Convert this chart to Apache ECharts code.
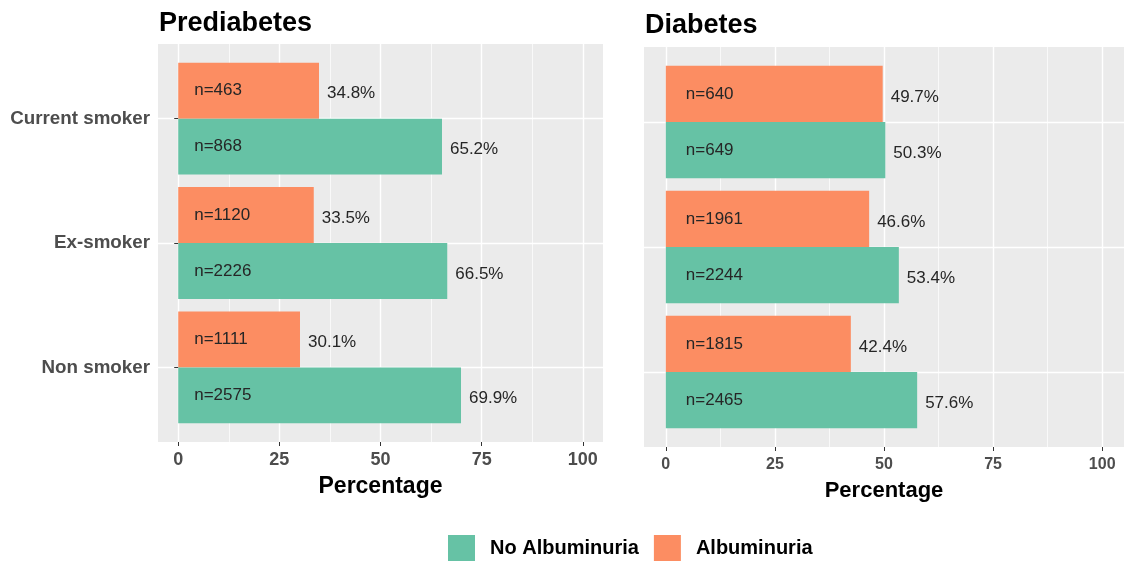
<!DOCTYPE html>
<html><head><meta charset="utf-8">
<script src="https://cdn.jsdelivr.net/npm/echarts@6/dist/echarts.min.js"></script>
<style>html,body{margin:0;padding:0;background:#fff}#c{width:1126px;height:562px}</style>
</head><body><div id="c"></div>
<script>
// ---- data ----
const categories = ['Current smoker', 'Ex-smoker', 'Non smoker'];
const seriesNames = ['No Albuminuria', 'Albuminuria'];
const panelTitles = ['Prediabetes', 'Diabetes'];
const xTicks = [0, 25, 50, 75, 100];
const xMinorTicks = [12.5, 37.5, 62.5, 87.5];
const axisTitle = 'Percentage';

const preAlbPct = [34.8, 33.5, 30.1];
const preAlbN = [463, 1120, 1111];
const preNoPct = [65.2, 66.5, 69.9];
const preNoN = [868, 2226, 2575];

const diaAlbPct = [49.7, 46.6, 42.4];
const diaAlbN = [640, 1961, 1815];
const diaNoPct = [50.3, 53.4, 57.6];
const diaNoN = [649, 2244, 2465];

// ---- style / layout ----
const TEAL = '#66C2A5', ORANGE = '#FC8D62';
const FONT = '"Liberation Sans", Arial, sans-serif';
const panels = [
  { title: panelTitles[0], bg: {left: 158, top: 44, width: 445, height: 398}, showY: true,
    tickFont: 18, nameFont: 23, nameGap: 33, labelMargin: 9, titleTop: 10, nDist: 16,
    alb: {pct: preAlbPct, n: preAlbN}, no: {pct: preNoPct, n: preNoN} },
  { title: panelTitles[1], bg: {left: 644, top: 47, width: 480, height: 400}, showY: false,
    tickFont: 16, nameFont: 22, nameGap: 33, labelMargin: 10, titleTop: 12, nDist: 20,
    alb: {pct: diaAlbPct, n: diaAlbN}, no: {pct: diaNoPct, n: diaNoN} }
];

const grid = [], xAxis = [], yAxis = [], series = [], title = [];
panels.forEach((p, i) => {
  const b = p.bg;
  const g0 = grid.length;
  grid.push({ left: b.left, top: b.top, width: b.width, height: b.height, show: true,
              backgroundColor: '#EBEBEB', borderWidth: 0, outerBoundsMode: 'none' });
  grid.push({ left: b.left, top: b.top + b.height / 32, width: b.width, height: b.height * 3 / 3.2,
              show: false, outerBoundsMode: 'none' });
  title.push({ text: p.title, left: b.left + 1, top: p.titleTop, padding: 0,
               textStyle: { fontFamily: FONT, fontWeight: 'bold', fontSize: 27, color: '#000' } });
  // background grid: major x
  xAxis.push({ type: 'value', gridIndex: g0, min: -5, max: 105, position: 'bottom',
    name: axisTitle, nameLocation: 'middle', nameGap: p.nameGap,
    nameTextStyle: { fontFamily: FONT, fontWeight: 'bold', fontSize: p.nameFont, color: '#000' },
    axisLine: { show: false },
    axisTick: { show: true, customValues: xTicks, length: 4, lineStyle: { color: '#333', width: 1 } },
    axisLabel: { customValues: xTicks, margin: p.labelMargin, fontFamily: FONT, fontWeight: 'bold',
                 fontSize: p.tickFont, color: '#4D4D4D' },
    splitLine: { show: true, lineStyle: { color: '#FFFFFF', width: 1.4 } } });
  // background grid: minor x
  xAxis.push({ type: 'value', gridIndex: g0, min: -5, max: 105, position: 'top',
    axisLine: { show: false }, axisLabel: { show: false },
    axisTick: { show: false, customValues: xMinorTicks },
    splitLine: { show: true, lineStyle: { color: '#FFFFFF', width: 0.7 } } });
  // data grid x
  const xData = xAxis.length;
  xAxis.push({ type: 'value', gridIndex: g0 + 1, min: -5, max: 105, show: false,
    axisLine: { show: false }, axisLabel: { show: false }, axisTick: { show: false }, splitLine: { show: false } });
  // background grid y (value, category centres 1..3)
  yAxis.push({ type: 'value', gridIndex: g0, min: 0.4, max: 3.6, inverse: true,
    axisLine: { show: false },
    axisTick: { show: p.showY, customValues: [1, 2, 3], length: 4, lineStyle: { color: '#333', width: 1 } },
    axisLabel: { show: p.showY, customValues: [1, 2, 3], margin: 8, fontFamily: FONT, fontWeight: 'bold',
                 fontSize: 18.8, color: '#4D4D4D', formatter: v => categories[Math.round(v) - 1] },
    splitLine: { show: true, lineStyle: { color: '#FFFFFF', width: 1.4 } } });
  const yA = yAxis.length;
  yAxis.push({ type: 'category', gridIndex: g0 + 1, data: categories, inverse: true, show: false,
    axisLine: { show: false }, axisTick: { show: false }, axisLabel: { show: false }, splitLine: { show: false } });
  const yB = yAxis.length;
  yAxis.push({ type: 'category', gridIndex: g0 + 1, data: categories, inverse: true, show: false,
    axisLine: { show: false }, axisTick: { show: false }, axisLabel: { show: false }, splitLine: { show: false } });

  const nLabel = (arr) => ({ show: true, position: 'insideLeft', distance: p.nDist,
    formatter: q => 'n=' + arr[q.dataIndex], fontFamily: FONT, fontSize: 17, color: '#262626' });
  const pctLabel = { show: true, position: 'right', distance: 8, offset: [0, 3],
    formatter: q => Number(q.value).toFixed(1) + '%', fontFamily: FONT, fontSize: 17, color: '#262626' };

  series.push({ type: 'bar', name: seriesNames[1], xAxisIndex: xData, yAxisIndex: yA, data: p.alb.pct,
    barCategoryGap: '10%', barGap: '0%', itemStyle: { color: ORANGE }, label: nLabel(p.alb.n) });
  series.push({ type: 'bar', name: seriesNames[0], xAxisIndex: xData, yAxisIndex: yA, data: p.no.pct,
    barCategoryGap: '10%', barGap: '0%', itemStyle: { color: TEAL }, label: nLabel(p.no.n) });
  series.push({ type: 'bar', name: 'pct-' + seriesNames[1], xAxisIndex: xData, yAxisIndex: yB, data: p.alb.pct,
    barCategoryGap: '10%', barGap: '0%', silent: true, itemStyle: { color: 'rgba(0,0,0,0)' }, label: pctLabel });
  series.push({ type: 'bar', name: 'pct-' + seriesNames[0], xAxisIndex: xData, yAxisIndex: yB, data: p.no.pct,
    barCategoryGap: '10%', barGap: '0%', silent: true, itemStyle: { color: 'rgba(0,0,0,0)' }, label: pctLabel });
});

const chart = echarts.init(document.getElementById('c'), null, { renderer: 'canvas' });
chart.setOption({
  animation: false,
  backgroundColor: '#FFFFFF',
  title: title,
  legend: { data: seriesNames, left: 448, top: 535, padding: 0, orient: 'horizontal', icon: 'rect',
    itemWidth: 27, itemHeight: 26, itemGap: 15, selectedMode: false,
    textStyle: { fontFamily: FONT, fontWeight: 'bold', fontSize: 20, color: '#000', padding: [0, 0, 0, 10] } },
  grid: grid, xAxis: xAxis, yAxis: yAxis, series: series
});
</script></body></html>
